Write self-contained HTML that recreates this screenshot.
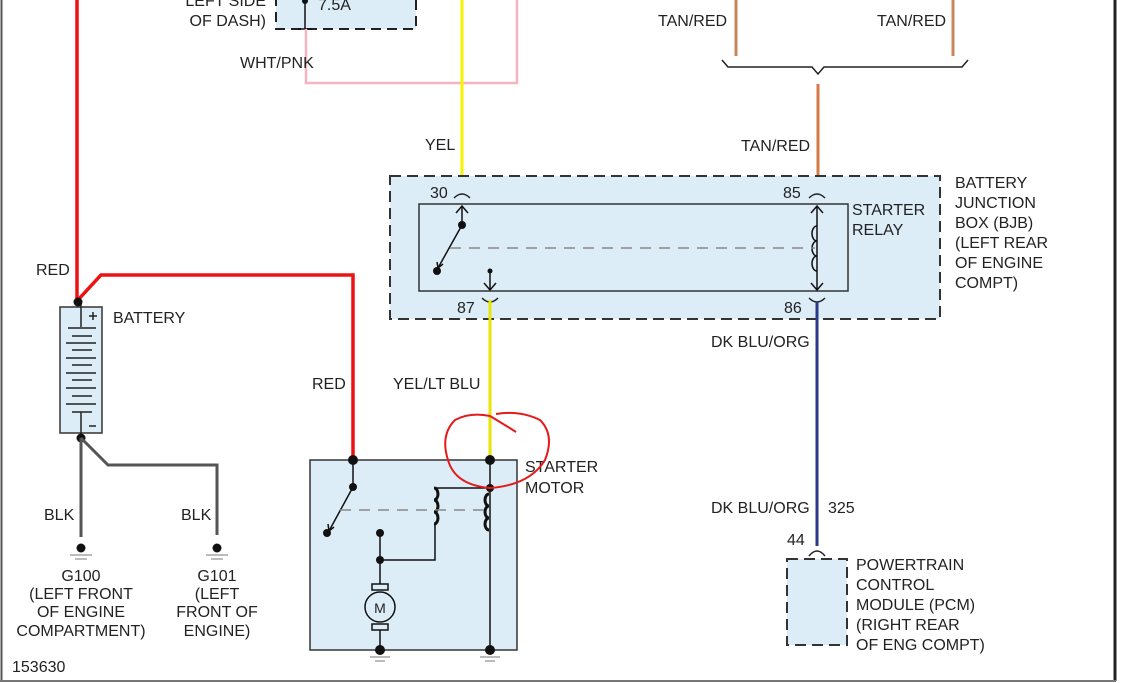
<!DOCTYPE html>
<html><head><meta charset="utf-8"><style>
html,body{margin:0;padding:0;background:#fff;}
svg{display:block;font-family:"Liberation Sans",sans-serif;font-size:16px;fill:#222;}
</style></head><body>
<svg width="1123" height="683" viewBox="0 0 1123 683" xmlns="http://www.w3.org/2000/svg">
<rect x="0" y="0" width="1123" height="683" fill="#fff"/>
<line x1="1.5" y1="0" x2="1.5" y2="681" stroke="#555" stroke-width="2"/>
<line x1="1115" y1="0" x2="1115" y2="681" stroke="#222" stroke-width="3"/>
<line x1="0" y1="681" x2="1116" y2="681" stroke="#777" stroke-width="2"/>

<!-- fuse box top -->
<rect x="276" y="-20" width="140" height="49" fill="#dcedf7" stroke="#222" stroke-width="2" stroke-dasharray="10,6"/>
<line x1="305" y1="0" x2="305" y2="29" stroke="#111" stroke-width="1.5"/>
<circle cx="305" cy="1" r="3" fill="#111"/>
<line x1="298" y1="29" x2="312" y2="29" stroke="#111" stroke-width="1.5"/>
<text x="318" y="10">7.5A</text>
<text x="266" y="6" text-anchor="end">LEFT SIDE</text>
<text x="266" y="26" text-anchor="end">OF DASH)</text>
<polyline points="306,29 306,83 517,83 517,0" fill="none" stroke="#f4b5c0" stroke-width="2.5"/>
<text x="240" y="68">WHT/PNK</text>
<line x1="462" y1="0" x2="462" y2="192" stroke="#f7f200" stroke-width="3"/>
<text x="425" y="150">YEL</text>

<!-- tan/red -->
<line x1="736" y1="0" x2="736" y2="56" stroke="#c8865a" stroke-width="3"/>
<line x1="953" y1="0" x2="953" y2="56" stroke="#c8865a" stroke-width="3"/>
<text x="658" y="26">TAN/RED</text>
<text x="877" y="26">TAN/RED</text>
<polyline points="722,60 728,67 812,67 818,74 824,67 962,67 968,60" fill="none" stroke="#222" stroke-width="1.5"/>
<line x1="818" y1="84" x2="818" y2="194" stroke="#d87a45" stroke-width="3"/>
<text x="741" y="151">TAN/RED</text>

<!-- relay -->
<rect x="390" y="176" width="550" height="143" fill="#dcedf7" stroke="#333" stroke-width="2" stroke-dasharray="11,6"/>
<rect x="419" y="204" width="429" height="87" fill="#dcedf7" stroke="#333" stroke-width="1.5"/>
<text x="430" y="198">30</text><text x="783" y="198">85</text>
<text x="457" y="313">87</text><text x="784" y="313">86</text>
<path d="M454,198 Q462,190 470,198 M809,198 Q817,190 825,198 M482,298 Q490,306 498,298 M809,298 Q817,306 825,298" fill="none" stroke="#222" stroke-width="1.5"/>
<g stroke="#111" stroke-width="1.5" fill="none">
<line x1="462" y1="206" x2="462" y2="225"/><polyline points="456,213 462,206 468,213"/>
<line x1="462" y1="225" x2="438" y2="268"/><polyline points="437,262 438,268 443,264"/>
<line x1="490" y1="271" x2="490" y2="290"/><polyline points="484,283 490,290 496,283"/>
<line x1="817" y1="206" x2="817" y2="290"/><polyline points="811,213 817,206 823,213"/><polyline points="811,283 817,290 823,283"/>
<path d="M817,226 a5,7.5 0 0 0 0,15 a5,7.5 0 0 0 0,15 a5,7.5 0 0 0 0,15"/>
</g>
<line x1="450" y1="248" x2="815" y2="248" stroke="#888" stroke-width="1.5" stroke-dasharray="11,8"/>
<circle cx="462" cy="225" r="4" fill="#111"/><circle cx="437" cy="271" r="4" fill="#111"/><circle cx="490" cy="271" r="2.5" fill="#111"/>
<text x="852" y="215">STARTER</text><text x="852" y="235">RELAY</text>
<text x="955" y="188">BATTERY</text><text x="955" y="208">JUNCTION</text><text x="955" y="228">BOX (BJB)</text><text x="955" y="248">(LEFT REAR</text><text x="955" y="268">OF ENGINE</text><text x="955" y="288">COMPT)</text>

<!-- dk blu/org -->
<line x1="817" y1="302" x2="817" y2="546" stroke="#2a3a8a" stroke-width="3"/>
<text x="711" y="347">DK BLU/ORG</text>
<text x="711" y="513">DK BLU/ORG</text><text x="828" y="513">325</text>
<text x="787" y="545">44</text>
<path d="M809,556 Q817,546 825,556" fill="none" stroke="#222" stroke-width="1.5"/>
<rect x="787" y="559" width="60" height="86" fill="#dcedf7" stroke="#333" stroke-width="2" stroke-dasharray="11,6"/>
<text x="856" y="570">POWERTRAIN</text><text x="856" y="590">CONTROL</text><text x="856" y="610">MODULE (PCM)</text><text x="856" y="630">(RIGHT REAR</text><text x="856" y="650">OF ENG COMPT)</text>

<!-- red wires -->
<line x1="77" y1="0" x2="77" y2="301" stroke="#ee1111" stroke-width="3.5"/>
<polyline points="77,301 101,275 353,275 353,459" fill="none" stroke="#ee1111" stroke-width="3.5"/>
<text x="36" y="275">RED</text>
<text x="312" y="389">RED</text>
<line x1="490" y1="300" x2="490" y2="459" stroke="#e6e600" stroke-width="3"/>
<text x="393" y="389">YEL/LT BLU</text>

<!-- battery -->
<rect x="60" y="307" width="42" height="126" fill="#dcedf7" stroke="#333" stroke-width="1.5"/>
<g stroke="#222" stroke-width="1.5">
<line x1="81" y1="302" x2="81" y2="327"/><line x1="68" y1="328" x2="96" y2="328"/>
<line x1="72" y1="336" x2="92" y2="336"/><line x1="66" y1="343" x2="96" y2="343"/><line x1="72" y1="350" x2="92" y2="350"/>
<line x1="66" y1="358" x2="96" y2="358"/><line x1="72" y1="365" x2="92" y2="365"/><line x1="66" y1="373" x2="96" y2="373"/>
<line x1="72" y1="380" x2="92" y2="380"/><line x1="66" y1="388" x2="96" y2="388"/><line x1="72" y1="396" x2="92" y2="396"/>
<line x1="66" y1="404" x2="96" y2="404"/><line x1="72" y1="412" x2="92" y2="412"/><line x1="81" y1="412" x2="81" y2="438"/>
<line x1="89" y1="426" x2="96" y2="426"/><line x1="89" y1="316" x2="97" y2="316"/><line x1="93" y1="312" x2="93" y2="320"/>
</g>
<circle cx="78" cy="302" r="4.5" fill="#111"/><circle cx="81" cy="438" r="4.5" fill="#111"/>
<text x="113" y="323">BATTERY</text>
<line x1="81" y1="438" x2="81" y2="537" stroke="#555" stroke-width="3"/>
<polyline points="81,438 108,465 217,465 217,535" fill="none" stroke="#555" stroke-width="3"/>
<text x="44" y="520">BLK</text><text x="181" y="520">BLK</text>
<circle cx="81" cy="548" r="4.5" fill="#111"/><circle cx="217" cy="548" r="4.5" fill="#111"/>
<g stroke="#777" stroke-width="1"><line x1="70" y1="555" x2="92" y2="555"/><line x1="75" y1="559" x2="87" y2="559"/>
<line x1="206" y1="555" x2="228" y2="555"/><line x1="211" y1="559" x2="223" y2="559"/></g>
<g text-anchor="middle"><text x="81" y="581">G100</text><text x="81" y="599">(LEFT FRONT</text><text x="81" y="617">OF ENGINE</text><text x="81" y="636">COMPARTMENT)</text>
<text x="217" y="581">G101</text><text x="217" y="599">(LEFT</text><text x="217" y="617">FRONT OF</text><text x="217" y="636">ENGINE)</text></g>
<text x="12" y="672">153630</text>

<!-- starter motor -->
<rect x="310" y="460" width="207" height="190" fill="#dcedf7" stroke="#333" stroke-width="1.5"/>
<g stroke="#111" stroke-width="1.5" fill="none">
<line x1="353" y1="460" x2="353" y2="487"/>
<line x1="353" y1="487" x2="329" y2="531"/><polyline points="328,524 329,531 334,527"/>
<polyline points="490,488 435,488"/>
<path d="M434,488 a4,6 0 0 1 0,12 a4,6 0 0 1 0,12 a4,6 0 0 1 0,12" stroke-width="3"/>
<polyline points="435,524 435,560 380,560"/>
<line x1="380" y1="533" x2="380" y2="584"/>
<line x1="490" y1="460" x2="490" y2="650"/>
<path d="M489,494 a4,6 0 0 0 0,12 a4,6 0 0 0 0,12 a4,6 0 0 0 0,12" stroke-width="3"/>
<rect x="372" y="584" width="16" height="6" fill="#dcedf7"/>
<rect x="372" y="624" width="16" height="6" fill="#dcedf7"/>
<circle cx="380" cy="607" r="15" fill="#dcedf7"/>
<line x1="380" y1="630" x2="380" y2="650"/>
</g>
<text x="380" y="613" text-anchor="middle" font-size="14">M</text>
<line x1="340" y1="510" x2="487" y2="510" stroke="#888" stroke-width="1.5" stroke-dasharray="11,8"/>
<circle cx="353" cy="460" r="5" fill="#111"/><circle cx="490" cy="460" r="5" fill="#111"/>
<circle cx="353" cy="487" r="4" fill="#111"/><circle cx="327" cy="533" r="4" fill="#111"/>
<circle cx="490" cy="488" r="4" fill="#111"/><circle cx="380" cy="533" r="4" fill="#111"/>
<circle cx="380" cy="560" r="4" fill="#111"/>
<circle cx="380" cy="650" r="5" fill="#111"/><circle cx="490" cy="650" r="5" fill="#111"/>
<g stroke="#777" stroke-width="1"><line x1="370" y1="657" x2="390" y2="657"/><line x1="375" y1="661" x2="385" y2="661"/>
<line x1="480" y1="657" x2="500" y2="657"/><line x1="485" y1="661" x2="495" y2="661"/></g>
<text x="525" y="472">STARTER</text><text x="525" y="493">MOTOR</text>

<!-- red annotation -->
<path d="M496,414 Q520,410 540,420 Q555,435 545,460 Q530,485 490,488 Q455,485 448,460 Q440,435 455,420 Q470,412 490,416 Q505,425 516,432" fill="none" stroke="#e51a1a" stroke-width="2"/>
</svg>
</body></html>
